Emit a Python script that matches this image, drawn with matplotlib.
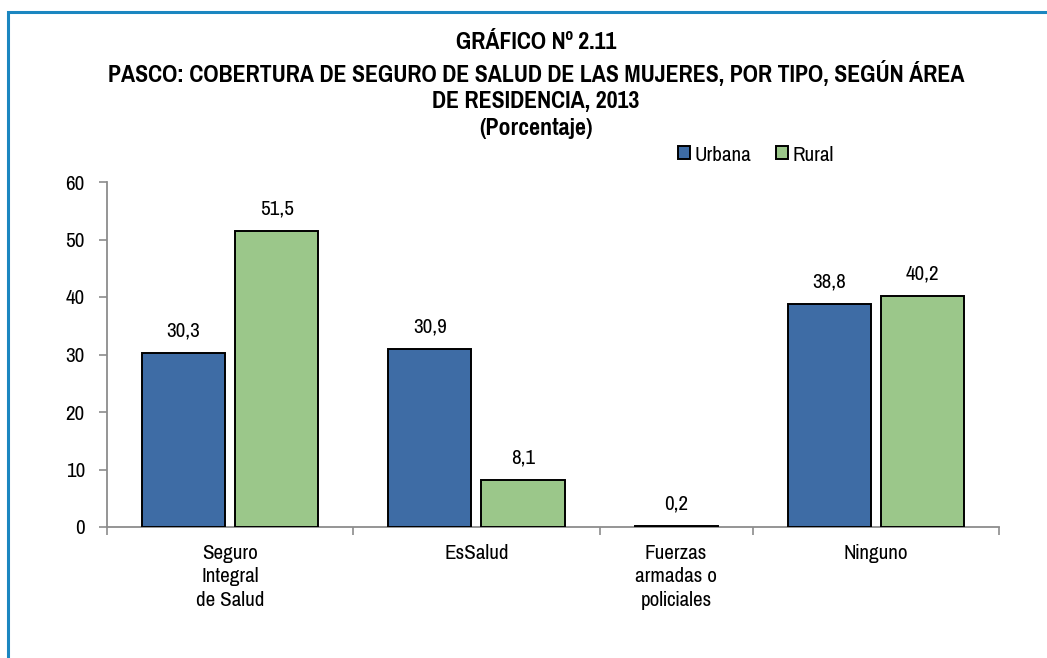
import matplotlib
matplotlib.use('Agg')
import matplotlib.pyplot as plt
from matplotlib.patches import Patch, Rectangle

plt.rcParams['font.family'] = ['Pragati Narrow', 'Roboto Condensed', 'Liberation Sans', 'DejaVu Sans']

categories = ['Seguro\nIntegral\nde Salud', 'EsSalud', 'Fuerzas\narmadas o\npoliciales', 'Ninguno']
urbana = [30.3, 30.9, 0.2, 38.8]
rural = [51.5, 8.1, None, 40.2]
series_names = ['Urbana', 'Rural']
yticks = [0, 10, 20, 30, 40, 50, 60]

title = ('GRÁFICO Nº 2.11\n'
         'PASCO: COBERTURA DE SEGURO DE SALUD DE LAS MUJERES, POR TIPO, SEGÚN ÁREA\n'
         'DE RESIDENCIA, 2013\n'
         '(Porcentaje)')

c_urb = '#3e6ca5'
c_rur = '#9bc78a'
axis_gray = '#8c8c8c'
fs = 16.5

W, H = 1047, 658
fig = plt.figure(figsize=(W / 100, H / 100), dpi=100)
ax = fig.add_axes([107 / W, 1 - 527 / H, (999 - 107) / W, (527 - 182) / H])

# group layout: padding, bars, gap between the two bars
bw, gap, pad = 1.0, 0.12, 0.42
x = 0.0
edges = [x]
centers = []
for i in range(len(categories)):
    vals = [(urbana[i], c_urb), (rural[i], c_rur)]
    vals = [v for v in vals if v[0] is not None]
    start = x + pad
    pos = [start + bw / 2 + k * (bw + gap) for k in range(len(vals))]
    for p, (v, c) in zip(pos, vals):
        ax.bar(p, v, width=bw, color=c, edgecolor='black', linewidth=1.4, zorder=3)
        ax.annotate(f'{v:.1f}'.replace('.', ','), (p, v), xytext=(0, 9),
                    textcoords='offset points', ha='center', va='bottom', fontsize=fs)
    width = 2 * pad + len(vals) * bw + (len(vals) - 1) * gap
    centers.append(x + width / 2)
    x += width
    edges.append(x)

ax.set_xlim(0, x)
ax.set_ylim(0, 60)
ax.set_yticks(yticks)
ax.set_yticklabels([str(t) for t in yticks], fontsize=fs)
ax.set_xticks(edges)
ax.set_xticklabels([''] * len(edges))
ax.set_xticks(centers, minor=True)
ax.set_xticklabels(categories, minor=True, fontsize=fs, linespacing=1.3, va='top')
ax.tick_params(axis='x', which='minor', length=0, pad=12)
ax.tick_params(axis='x', which='major', length=6, color=axis_gray, width=1.2)
ax.tick_params(axis='y', length=6, color=axis_gray, width=1.2, pad=10)
for s in ['top', 'right']:
    ax.spines[s].set_visible(False)
for s in ['left', 'bottom']:
    ax.spines[s].set_color(axis_gray)
    ax.spines[s].set_linewidth(1.3)

fig.text(536 / W, 1 - 32 / H, title, ha='center', va='top', fontsize=18.7,
         fontweight='bold', linespacing=1.32)

handles = [Patch(facecolor=c_urb, edgecolor='black', linewidth=1.4),
           Patch(facecolor=c_rur, edgecolor='black', linewidth=1.4)]
fig.legend(handles, series_names, loc='center left', bbox_to_anchor=(669 / W, 1 - 155 / H),
           ncol=2, frameon=False, fontsize=fs, handlelength=0.5, handleheight=0.5,
           handletextpad=0.2, columnspacing=1.1, borderaxespad=0)

fig.patches.append(Rectangle((8 / W, -0.1), 1.2, 1 - 12 / H + 0.1, transform=fig.transFigure,
                             fill=False, edgecolor='#1b86c0', linewidth=2.2))

fig.savefig('out.png', dpi=100)
